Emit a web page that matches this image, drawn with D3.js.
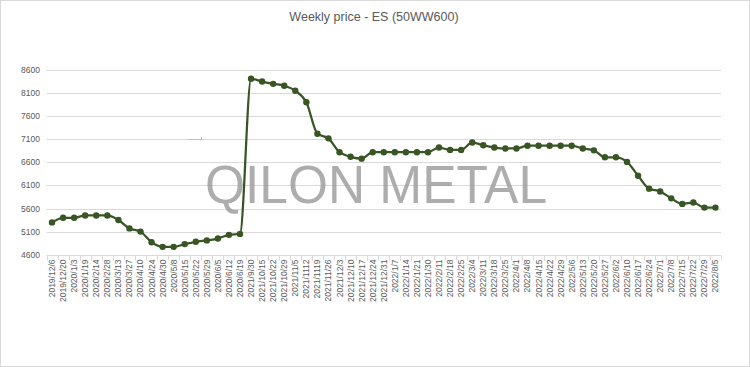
<html>
<head>
  <meta charset="utf-8" />
  <title>Weekly price - ES (50WW600)</title>
  <script src="https://cdn.jsdelivr.net/npm/d3@7"></script>
  <style>
    body { margin: 0; background: #fff; font-family: "Liberation Sans", Arial, sans-serif; }
    svg { display: block; }
  </style>
</head>
<body>
<div id="chart"></div>
<script>
// week labels as printed on the axis (typos kept)
var weeks = [
  "2019/12/6", "2019/12/20", "2020/1/3", "2020/1/19", "2020/2/14", "2020/2/28", "2020/3/13",
  "2020/3/27", "2020/4/10", "2020/4/24", "2020/4/30", "2020/5/8", "2020/5/15", "2020/5/22",
  "2020/5/29", "2020/6/5", "2020/6/12", "2020/6/19", "2021/9/30", "2021/10/15", "2021/10/22",
  "2021/10/29", "2021/11/5", "2021/1112", "2021/1119", "2021/11/26", "2021/12/3", "2021/12/10",
  "2021/12/17", "2021/12/24", "2021/12/31", "2022/1/7", "2022/1/14", "2022/1/21", "2022/1/30",
  "2022/2/11", "2022/2/18", "2022/2/25", "2022/3/4", "2022/3/11", "2022/3/18", "2022/3/25",
  "2022/4/1", "2022/4/8", "2022/4/15", "2022/4/22", "2022/4/29", "2022/5/6", "2022/5/13",
  "2022/5/20", "2022/5/27", "2022/6/2", "2022/6/10", "2022/6/17", "2022/6/24", "2022/7/1",
  "2022/7/8", "2022/7/15", "2022/7/22", "2022/7/29", "2022/8/5"
];

var prices = [
  5300, 5400, 5400, 5450, 5450, 5450, 5350, 5170, 5100, 4870, 4770, 4770, 4830, 4880,
  4910, 4950, 5030, 5050, 8410, 8350, 8300, 8260, 8150, 7900, 7220, 7120, 6820, 6720,
  6680, 6820, 6820, 6820, 6820, 6820, 6820, 6920, 6870, 6870, 7030, 6970, 6920, 6900,
  6900, 6960, 6960, 6960, 6960, 6960, 6900, 6860, 6710, 6710, 6610, 6310, 6030,
  5970, 5820, 5700, 5730, 5620, 5620
];

var yTicks = [4600, 5100, 5600, 6100, 6600, 7100, 7600, 8100, 8600];

var width = 750,
    height = 367;
var margin = {left: 46.5, right: 29, top: 70, bottom: 112};

var svg = d3.select("#chart").append("svg")
    .attr("width", width)
    .attr("height", height);

svg.append("rect")
    .attr("x", 0.5).attr("y", 0.5)
    .attr("width", width - 1).attr("height", height - 1)
    .attr("fill", "#fff")
    .attr("stroke", "#d9d9d9");

var x = d3.scaleBand()
    .domain(weeks)
    .range([margin.left, width - margin.right]);

var y = d3.scaleLinear()
    .domain([4600, 8600])
    .range([height - margin.bottom - 0.3, margin.top]);

// title
svg.append("text")
    .attr("x", 374)
    .attr("y", 21)
    .attr("text-anchor", "middle")
    .attr("font-size", "12.5px")
    .attr("fill", "#595959")
    .text("Weekly price - ES (50WW600)");

// gridlines
svg.append("g")
    .selectAll("line")
    .data(yTicks.slice(1))
    .enter().append("line")
    .attr("x1", margin.left)
    .attr("x2", width - margin.right)
    .attr("y1", function(d) { return Math.round(y(d)) + 0.5; })
    .attr("y2", function(d) { return Math.round(y(d)) + 0.5; })
    .attr("stroke", "#d9d9d9")
    .attr("stroke-width", 1);

// y labels
svg.append("g")
    .selectAll("text")
    .data(yTicks)
    .enter().append("text")
    .attr("x", 40)
    .attr("y", function(d) { return y(d); })
    .attr("dy", "0.35em")
    .attr("text-anchor", "end")
    .attr("font-size", "8.5px")
    .attr("fill", "#595959")
    .text(function(d) { return d; });

// x axis line + ticks between categories
var base = Math.round(y(4600)) + 0.5;
svg.append("line")
    .attr("x1", margin.left).attr("x2", width - margin.right)
    .attr("y1", base).attr("y2", base)
    .attr("stroke", "#d9d9d9");

var bounds = weeks.map(function(w) { return x(w); });
bounds.push(width - margin.right);
svg.append("g")
    .selectAll("line")
    .data(bounds)
    .enter().append("line")
    .attr("x1", function(d) { return Math.round(d) + 0.5; })
    .attr("x2", function(d) { return Math.round(d) + 0.5; })
    .attr("y1", base)
    .attr("y2", base + 5)
    .attr("stroke", "#d9d9d9");

// x labels, rotated
svg.append("g")
    .selectAll("text")
    .data(weeks)
    .enter().append("text")
    .attr("transform", function(d) {
      return "translate(" + (x(d) + x.bandwidth() / 2) + "," + (base + 4) + ") rotate(-90)";
    })
    .attr("dy", "0.35em")
    .attr("text-anchor", "end")
    .attr("font-size", "8.5px")
    .attr("fill", "#595959")
    .text(function(d) { return d; });

// watermark
svg.append("text")
    .attr("x", 376)
    .attr("y", 203)
    .attr("text-anchor", "middle")
    .attr("font-family", "'Liberation Sans', sans-serif")
    .attr("font-size", "53px")
    .attr("textLength", 342)
    .attr("lengthAdjust", "spacingAndGlyphs")
    .attr("fill", "#999")
    .attr("fill-opacity", 0.8)
    .text("QILON METAL");

// little stray mark
svg.append("path")
    .attr("d", "M188,139.5H201M201.5,137V140")
    .attr("stroke", "#bfbfbf")
    .attr("fill", "none");

// the price line
var pts = weeks.map(function(w, i) { return [x(w) + x.bandwidth() / 2, y(prices[i])]; });

var line = d3.line().curve(d3.curveMonotoneX);

svg.append("path")
    .attr("d", line(pts))
    .attr("fill", "none")
    .attr("stroke", "#375623")
    .attr("stroke-width", 2.25);

svg.append("g")
    .selectAll("circle")
    .data(pts)
    .enter().append("circle")
    .attr("cx", function(d) { return d[0]; })
    .attr("cy", function(d) { return d[1]; })
    .attr("r", 3.2)
    .attr("fill", "#375623");
</script>
</body>
</html>
